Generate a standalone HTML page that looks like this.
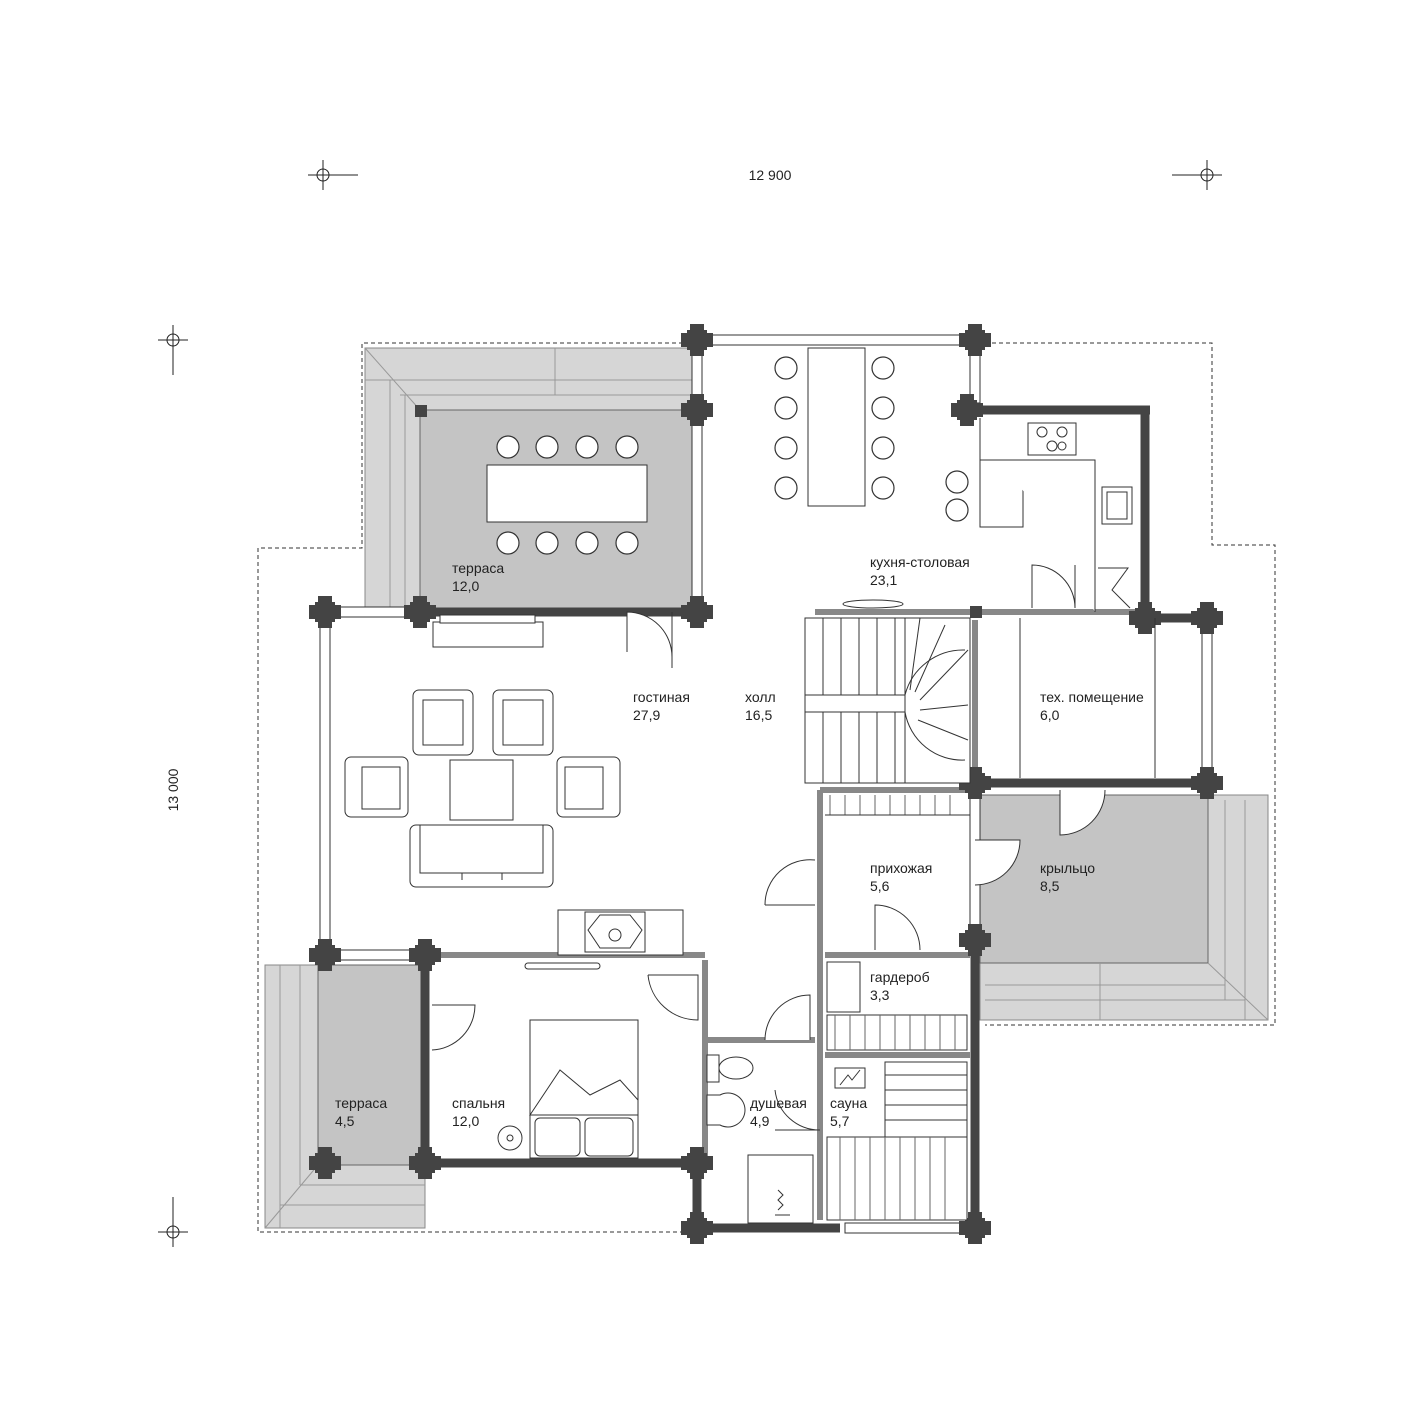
<!DOCTYPE html>
<html><head><meta charset="utf-8"><style>
html,body{margin:0;padding:0;background:#fff}
svg{display:block}
text{font-family:"Liberation Sans",sans-serif;font-size:14px;fill:#222}
</style></head><body>
<svg width="1420" height="1415" viewBox="0 0 1420 1415" xmlns="http://www.w3.org/2000/svg">
<defs>
<g id="post"><rect x="-7" y="-16" width="14" height="32" fill="#444"/><rect x="-16" y="-7" width="32" height="14" fill="#444"/><rect x="-10" y="-10" width="20" height="20" fill="#444"/></g>
<g id="chair"><circle r="11" fill="#fff" stroke="#333" stroke-width="1.2"/></g>
</defs>
<!-- dimension marks -->
<g stroke="#222" stroke-width="1" fill="none">
<line x1="308" y1="175" x2="358" y2="175"/><line x1="323" y1="160" x2="323" y2="190"/><circle cx="323" cy="175" r="6"/>
<line x1="1172" y1="175" x2="1222" y2="175"/><line x1="1207" y1="160" x2="1207" y2="190"/><circle cx="1207" cy="175" r="6"/>
<line x1="158" y1="340" x2="188" y2="340"/><line x1="173" y1="325" x2="173" y2="375"/><circle cx="173" cy="340" r="6"/>
<line x1="158" y1="1232" x2="188" y2="1232"/><line x1="173" y1="1197" x2="173" y2="1247"/><circle cx="173" cy="1232" r="6"/>
</g>
<text x="770" y="180" text-anchor="middle">12 900</text>
<text x="178" y="790" text-anchor="middle" transform="rotate(-90 178 790)">13 000</text>
<!-- dashed roof outline -->
<g stroke="#333" stroke-width="1" stroke-dasharray="4,3" fill="none">
<polyline points="690,343 362,343 362,548 258,548 258,1232 690,1232"/>
<polyline points="985,343 1212,343 1212,545 1275,545 1275,1025 985,1025"/>
</g>
<!-- gray terraces -->
<rect x="365" y="348" width="332" height="264" fill="#d6d6d6" stroke="#888" stroke-width="1"/>
<rect x="420" y="410" width="277" height="202" fill="#c4c4c4" stroke="#666"/>
<g stroke="#999" fill="none"><line x1="365" y1="348" x2="420" y2="410"/><line x1="365" y1="380" x2="697" y2="380"/><line x1="400" y1="395" x2="697" y2="395"/><line x1="390" y1="380" x2="390" y2="612"/><line x1="405" y1="395" x2="405" y2="612"/><line x1="555" y1="348" x2="555" y2="395"/></g>
<rect x="265" y="965" width="160" height="263" fill="#d6d6d6" stroke="#888"/>
<rect x="318" y="965" width="107" height="200" fill="#c4c4c4" stroke="#666"/>
<g stroke="#999" fill="none"><line x1="280" y1="965" x2="280" y2="1228"/><line x1="300" y1="965" x2="300" y2="1185"/><line x1="300" y1="1185" x2="425" y2="1185"/><line x1="280" y1="1205" x2="425" y2="1205"/><line x1="265" y1="1228" x2="318" y2="1165"/></g>
<rect x="980" y="795" width="288" height="225" fill="#d6d6d6" stroke="#888"/>
<rect x="980" y="795" width="228" height="168" fill="#c4c4c4" stroke="#666"/>
<g stroke="#999" fill="none"><line x1="1225" y1="800" x2="1225" y2="1000"/><line x1="1245" y1="800" x2="1245" y2="1020"/><line x1="985" y1="985" x2="1225" y2="985"/><line x1="985" y1="1000" x2="1245" y2="1000"/><line x1="1208" y1="963" x2="1268" y2="1020"/><line x1="1100" y1="963" x2="1100" y2="1020"/></g>
<!-- windows (double lines) -->
<g fill="#fff" stroke="#333" stroke-width="1">
<rect x="705" y="335" width="262" height="10"/>
<rect x="692" y="348" width="10" height="55"/>
<rect x="692" y="418" width="10" height="186"/>
<rect x="970" y="348" width="10" height="55"/>
<rect x="320" y="620" width="10" height="327"/>
<rect x="333" y="607" width="80" height="10"/>
<rect x="1202" y="626" width="10" height="150"/>
<rect x="333" y="950" width="85" height="10"/>
<rect x="845" y="1223" width="122" height="10"/>
<rect x="970" y="795" width="10" height="130"/>
</g>
<!-- thin grey partitions -->
<g stroke="#888" stroke-width="6" fill="none">
<line x1="815" y1="612" x2="1140" y2="612"/>
<line x1="975" y1="620" x2="975" y2="780"/>
<line x1="820" y1="790" x2="820" y2="1220"/>
<line x1="432" y1="955" x2="705" y2="955"/>
<line x1="705" y1="960" x2="705" y2="1160"/>
<line x1="705" y1="1040" x2="815" y2="1040"/>
<line x1="825" y1="955" x2="970" y2="955"/>
<line x1="825" y1="1055" x2="970" y2="1055"/>
<line x1="820" y1="790" x2="970" y2="790"/>
</g>
<!-- thick walls -->
<g stroke="#444" stroke-width="9" fill="none">
<line x1="420" y1="612" x2="697" y2="612"/>
<line x1="967" y1="410" x2="1150" y2="410"/>
<line x1="1145" y1="410" x2="1145" y2="618"/>
<line x1="975" y1="783" x2="1207" y2="783"/>
<line x1="1145" y1="618" x2="1207" y2="618"/>
<line x1="425" y1="955" x2="425" y2="1163"/>
<line x1="425" y1="1163" x2="697" y2="1163"/>
<line x1="697" y1="1163" x2="697" y2="1228"/>
<line x1="697" y1="1228" x2="840" y2="1228"/>
<line x1="975" y1="925" x2="975" y2="1228"/>
</g>
<!-- posts -->
<use href="#post" x="697" y="340"/><use href="#post" x="975" y="340"/>
<use href="#post" x="697" y="410"/><use href="#post" x="967" y="410"/>
<use href="#post" x="325" y="612"/><use href="#post" x="420" y="612"/><use href="#post" x="697" y="612"/>
<use href="#post" x="1145" y="618"/><use href="#post" x="1207" y="618"/>
<use href="#post" x="975" y="783"/><use href="#post" x="1207" y="783"/>
<use href="#post" x="325" y="955"/><use href="#post" x="425" y="955"/>
<use href="#post" x="325" y="1163"/><use href="#post" x="425" y="1163"/><use href="#post" x="697" y="1163"/>
<use href="#post" x="697" y="1228"/><use href="#post" x="975" y="1228"/><use href="#post" x="975" y="940"/>
<rect x="415" y="405" width="12" height="12" fill="#444"/>
<rect x="970" y="606" width="12" height="12" fill="#444"/>
<!-- terrace table -->
<rect x="487" y="465" width="160" height="57" fill="#fff" stroke="#333"/>
<use href="#chair" x="508" y="447"/><use href="#chair" x="547" y="447"/><use href="#chair" x="587" y="447"/><use href="#chair" x="627" y="447"/>
<use href="#chair" x="508" y="543"/><use href="#chair" x="547" y="543"/><use href="#chair" x="587" y="543"/><use href="#chair" x="627" y="543"/>
<!-- kitchen -->
<rect x="808" y="348" width="57" height="158" fill="#fff" stroke="#333"/>
<use href="#chair" x="786" y="368"/><use href="#chair" x="786" y="408"/><use href="#chair" x="786" y="448"/><use href="#chair" x="786" y="488"/>
<use href="#chair" x="883" y="368"/><use href="#chair" x="883" y="408"/><use href="#chair" x="883" y="448"/><use href="#chair" x="883" y="488"/>
<use href="#chair" x="957" y="482"/><use href="#chair" x="957" y="510"/>
<g fill="#fff" stroke="#333"><rect x="980" y="460" width="43" height="67"/><polyline points="980,418 980,460 1095,460 1095,612"/>
<rect x="1028" y="423" width="48" height="32"/><circle cx="1042" cy="432" r="5"/><circle cx="1062" cy="432" r="5"/><circle cx="1052" cy="446" r="5"/><circle cx="1062" cy="446" r="4"/>
<rect x="1102" y="487" width="30" height="37"/><rect x="1107" y="492" width="20" height="27"/>
<path d="M1032 608 L1032 565 A43 43 0 0 1 1075 608" /><line x1="1075" y1="565" x2="1075" y2="608"/>
<path d="M1098 568 L1128 568 L1112 590 L1130 608"/>
</g>
<!-- stairs -->
<g fill="#fff" stroke="#333">
<rect x="805" y="618" width="100" height="165"/>
<ellipse cx="873" cy="604" rx="30" ry="4"/>
<line x1="805" y1="695" x2="905" y2="695"/><line x1="805" y1="712" x2="905" y2="712"/>
<line x1="823" y1="618" x2="823" y2="695"/><line x1="841" y1="618" x2="841" y2="695"/><line x1="859" y1="618" x2="859" y2="695"/><line x1="877" y1="618" x2="877" y2="695"/><line x1="895" y1="618" x2="895" y2="695"/>
<line x1="823" y1="712" x2="823" y2="783"/><line x1="841" y1="712" x2="841" y2="783"/><line x1="859" y1="712" x2="859" y2="783"/><line x1="877" y1="712" x2="877" y2="783"/><line x1="895" y1="712" x2="895" y2="783"/>
<path d="M905 618 L970 618 L970 783 L905 783 Z"/><path d="M905 695 A60 60 0 0 1 965 650 M905 712 A58 58 0 0 0 965 760" fill="none"/>
<line x1="920" y1="618" x2="910" y2="690"/><line x1="945" y1="625" x2="915" y2="692"/><line x1="968" y1="650" x2="920" y2="700"/><line x1="968" y1="705" x2="920" y2="710"/><line x1="968" y1="740" x2="918" y2="720"/>
</g>
<!-- tech room -->
<g fill="none" stroke="#333"><line x1="1020" y1="618" x2="1020" y2="778"/><line x1="1155" y1="618" x2="1155" y2="778"/></g>
<!-- living room furniture -->
<g fill="#fff" stroke="#333">
<rect x="433" y="622" width="110" height="25"/><rect x="440" y="615" width="95" height="8"/>
<rect x="413" y="690" width="60" height="65" rx="6"/><rect x="423" y="700" width="40" height="45"/>
<rect x="493" y="690" width="60" height="65" rx="6"/><rect x="503" y="700" width="40" height="45"/>
<rect x="345" y="757" width="63" height="60" rx="6"/><rect x="362" y="767" width="38" height="42"/>
<rect x="557" y="757" width="63" height="60" rx="6"/><rect x="565" y="767" width="38" height="42"/>
<rect x="450" y="760" width="63" height="60"/>
<rect x="410" y="825" width="143" height="62" rx="6"/><line x1="462" y1="825" x2="462" y2="880"/><line x1="502" y1="825" x2="502" y2="880"/><rect x="420" y="825" width="123" height="48"/>
<rect x="558" y="910" width="125" height="45"/><rect x="585" y="912" width="60" height="40"/><polygon points="600,915 630,915 642,930 630,948 600,948 588,930"/><circle cx="615" cy="935" r="6"/>
<rect x="525" y="963" width="75" height="6" rx="3"/>
<path d="M627 652 L627 612 A45 45 0 0 1 672 657" /><line x1="672" y1="612" x2="672" y2="668"/>
<path d="M765 905 L815 905 M815 860 A45 45 0 0 0 765 905"/>
<path d="M875 950 L875 905 A45 45 0 0 1 920 950"/>
<path d="M1060 790 L1060 835 A45 45 0 0 0 1105 790"/>
<path d="M975 885 A45 45 0 0 0 1020 840 L975 840"/>
<path d="M648 975 L698 975 L698 1020 A50 50 0 0 1 648 975"/>
<path d="M432 1005 L475 1005 A45 45 0 0 1 432 1050"/>
<path d="M765 1040 A45 45 0 0 1 810 995 L810 1040"/>
<path d="M775 1130 L820 1130 A45 45 0 0 1 775 1090"/>
</g>
<!-- bedroom -->
<g fill="#fff" stroke="#333">
<rect x="530" y="1020" width="108" height="138"/>
<path d="M530 1115 L560 1070 L590 1095 L620 1080 L638 1100 L638 1115 Z"/>
<rect x="535" y="1118" width="45" height="38" rx="5"/><rect x="585" y="1118" width="48" height="38" rx="5"/>
<circle cx="510" cy="1138" r="12"/><circle cx="510" cy="1138" r="3"/>
</g>
<!-- shower room -->
<g fill="#fff" stroke="#333">
<rect x="707" y="1055" width="12" height="27"/><ellipse cx="736" cy="1068" rx="17" ry="11"/>
<path d="M707 1095 L720 1095 A17 17 0 1 1 720 1125 L707 1125 Z"/>
<rect x="748" y="1155" width="65" height="68"/><path d="M778 1190 l5 5 -5 5 5 5 -5 5 M775 1215 h15"/>
</g>
<!-- wardrobe / sauna -->
<g fill="#fff" stroke="#333">
<rect x="827" y="962" width="33" height="50"/><rect x="827" y="1015" width="140" height="35"/>
<g stroke="#666"><line x1="835" y1="1015" x2="835" y2="1050"/><line x1="850" y1="1015" x2="850" y2="1050"/><line x1="865" y1="1015" x2="865" y2="1050"/><line x1="880" y1="1015" x2="880" y2="1050"/><line x1="895" y1="1015" x2="895" y2="1050"/><line x1="910" y1="1015" x2="910" y2="1050"/><line x1="925" y1="1015" x2="925" y2="1050"/><line x1="940" y1="1015" x2="940" y2="1050"/><line x1="955" y1="1015" x2="955" y2="1050"/>
<line x1="830" y1="795" x2="830" y2="815"/><line x1="845" y1="795" x2="845" y2="815"/><line x1="860" y1="795" x2="860" y2="815"/><line x1="875" y1="795" x2="875" y2="815"/><line x1="890" y1="795" x2="890" y2="815"/><line x1="905" y1="795" x2="905" y2="815"/><line x1="920" y1="795" x2="920" y2="815"/><line x1="935" y1="795" x2="935" y2="815"/><line x1="950" y1="795" x2="950" y2="815"/></g>
<line x1="825" y1="815" x2="970" y2="815"/>
<rect x="835" y="1068" width="30" height="20"/><path d="M840 1085 l8 -10 4 5 8 -10"/>
<rect x="885" y="1062" width="82" height="75"/>
<line x1="885" y1="1075" x2="967" y2="1075"/><line x1="885" y1="1090" x2="967" y2="1090"/><line x1="885" y1="1105" x2="967" y2="1105"/><line x1="885" y1="1120" x2="967" y2="1120"/>
<rect x="827" y="1137" width="140" height="83"/>
<g stroke="#666"><line x1="840" y1="1137" x2="840" y2="1220"/><line x1="855" y1="1137" x2="855" y2="1220"/><line x1="870" y1="1137" x2="870" y2="1220"/><line x1="885" y1="1137" x2="885" y2="1220"/><line x1="900" y1="1137" x2="900" y2="1220"/><line x1="915" y1="1137" x2="915" y2="1220"/><line x1="930" y1="1137" x2="930" y2="1220"/><line x1="945" y1="1137" x2="945" y2="1220"/></g>
</g>
<!-- labels -->
<text x="452" y="573">терраса</text><text x="452" y="591">12,0</text>
<text x="870" y="567">кухня-столовая</text><text x="870" y="585">23,1</text>
<text x="633" y="702">гостиная</text><text x="633" y="720">27,9</text>
<text x="745" y="702">холл</text><text x="745" y="720">16,5</text>
<text x="1040" y="702">тех. помещение</text><text x="1040" y="720">6,0</text>
<text x="1040" y="873">крыльцо</text><text x="1040" y="891">8,5</text>
<text x="870" y="873">прихожая</text><text x="870" y="891">5,6</text>
<text x="870" y="982">гардероб</text><text x="870" y="1000">3,3</text>
<text x="750" y="1108">душевая</text><text x="750" y="1126">4,9</text>
<text x="830" y="1108">сауна</text><text x="830" y="1126">5,7</text>
<text x="452" y="1108">спальня</text><text x="452" y="1126">12,0</text>
<text x="335" y="1108">терраса</text><text x="335" y="1126">4,5</text>
</svg>
</body></html>
